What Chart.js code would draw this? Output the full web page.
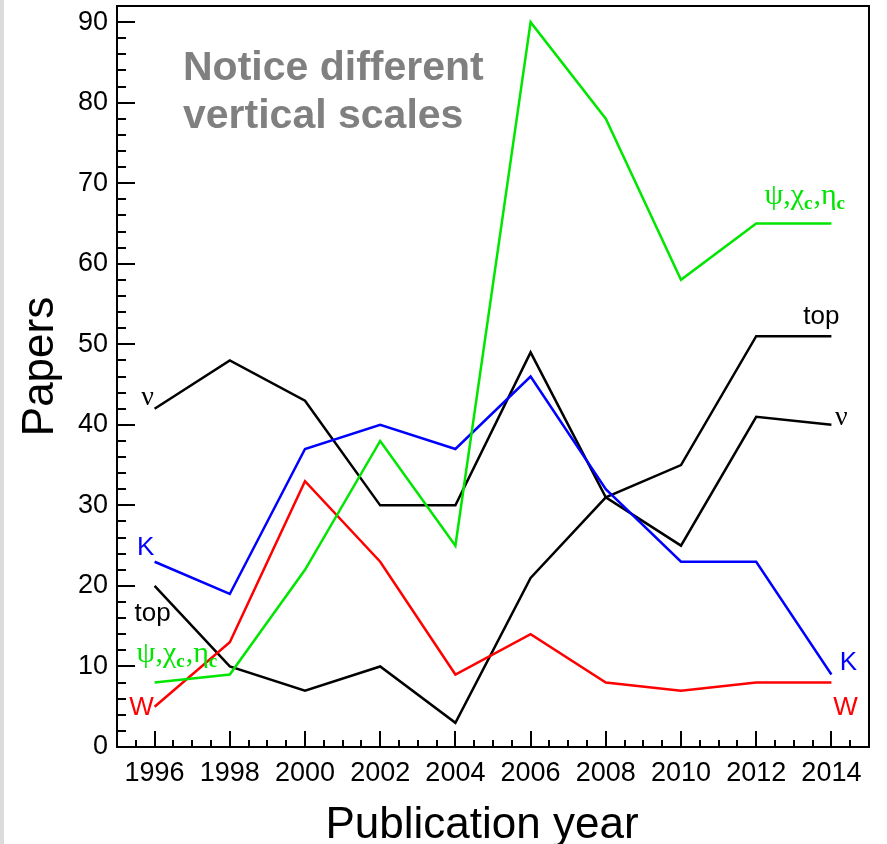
<!DOCTYPE html>
<html lang="en">
    <head>
        <meta charset="UTF-8" />
        <title>Papers per publication year</title>
        <script src="https://cdn.jsdelivr.net/npm/chart.js@4.4.1/dist/chart.umd.min.js"></script>
    </head>
    <style>
        body {
            margin: 0;
            background: #fff;
        }
        div.main {
            position: relative;
            width: 887px;
            height: 844px;
        }
        div.edge {
            position: absolute;
            left: 0;
            top: 0;
            width: 4px;
            height: 844px;
            background: #dcdcdc;
        }
    </style>

    <body>
        <div class="main">
            <canvas id="myChart" width="887" height="844"></canvas>
            <div class="edge"></div>
        </div>

        <script>
            // years on the x axis, papers per year for each topic
            const years = [1996, 1998, 2000, 2002, 2004, 2006, 2008, 2010, 2012, 2014];
            const psiChiEta = [8, 9, 22, 38, 25, 90, 78, 58, 65, 65];
            const wBoson = [5, 13, 33, 23, 9, 14, 8, 7, 8, 8];
            const kaon = [23, 19, 37, 40, 37, 46, 32, 23, 23, 9];
            const neutrino = [42, 48, 43, 30, 30, 49, 31, 25, 41, 40];
            const topQuark = [20, 10, 7, 10, 3, 21, 31, 35, 51, 51];
            const yTicks = [0, 10, 20, 30, 40, 50, 60, 70, 80, 90];

            const xTitle = "Publication year";
            const yTitle = "Papers";
            const note = ["Notice different", "vertical scales"];

            const sans = "'Liberation Sans', Arial, sans-serif";
            const serif = "'Liberation Serif', 'Times New Roman', serif";
            const GREEN = "#00e600";

            function pts(arr) {
                return years.map((x, i) => ({ x: x, y: arr[i] }));
            }

            // text tags at both ends of each line (dataset index, offsets from the point)
            const tags = [
                { ds: 3, end: 0, text: "ν", font: "28px " + serif, color: "#000", dx: -7, dy: -4 },
                { ds: 3, end: 1, text: "ν", font: "28px " + serif, color: "#000", dx: 10, dy: 0 },
                { ds: 2, end: 0, text: "K", font: "26px " + sans, color: "#0000ff", dx: -9, dy: -7 },
                { ds: 2, end: 1, text: "K", font: "26px " + sans, color: "#0000ff", dx: 17, dy: -5 },
                { ds: 4, end: 0, text: "top", font: "26px " + sans, color: "#000", dx: -2, dy: 35 },
                { ds: 4, end: 1, text: "top", font: "26px " + sans, color: "#000", dx: -10, dy: -12 },
                { ds: 1, end: 0, text: "W", font: "26px " + sans, color: "#ff0000", dx: -13, dy: 8 },
                { ds: 1, end: 1, text: "W", font: "26px " + sans, color: "#ff0000", dx: 14, dy: 32 },
            ];
            const psiTags = [
                { end: 0, dx: -18, dy: -21 },
                { end: 1, dx: -67, dy: -19 },
            ];

            function drawPsi(ctx, x, y) {
                const parts = [["ψ,χ", false], ["c", true], [",η", false], ["c", true]];
                ctx.fillStyle = GREEN;
                ctx.textAlign = "left";
                ctx.textBaseline = "alphabetic";
                parts.forEach((p) => {
                    ctx.font = p[1] ? "bold 19px " + serif : "30px " + serif;
                    ctx.fillText(p[0], x, p[1] ? y + 5 : y);
                    x += ctx.measureText(p[0]).width + (p[1] ? 1 : 0);
                });
            }

            const decor = {
                id: "decor",
                afterDraw(chart) {
                    const { ctx, chartArea: a, scales } = chart;
                    const x = scales.x;
                    const y = scales.y;
                    ctx.save();

                    // frame
                    ctx.strokeStyle = "#000";
                    ctx.lineWidth = 2;
                    ctx.strokeRect(a.left, a.top, a.right - a.left, a.bottom - a.top);

                    // inward tick marks
                    ctx.beginPath();
                    for (let v = 1995.5; v < 2015; v += 0.5) {
                        const px = Math.round(x.getPixelForValue(v));
                        const len = years.includes(v) ? 16 : 7;
                        ctx.moveTo(px, a.bottom);
                        ctx.lineTo(px, a.bottom - len);
                    }
                    for (let v = 2; v <= 90; v += 2) {
                        const py = Math.round(y.getPixelForValue(v));
                        const len = v % 10 === 0 ? 18 : 9;
                        ctx.moveTo(a.left, py);
                        ctx.lineTo(a.left + len, py);
                    }
                    ctx.stroke();

                    // tags at the line ends
                    tags.forEach((t) => {
                        const meta = chart.getDatasetMeta(t.ds);
                        const p = meta.data[t.end ? meta.data.length - 1 : 0];
                        ctx.font = t.font;
                        ctx.fillStyle = t.color;
                        ctx.textAlign = "center";
                        ctx.textBaseline = "alphabetic";
                        ctx.fillText(t.text, p.x + t.dx, p.y + t.dy);
                    });
                    psiTags.forEach((t) => {
                        const meta = chart.getDatasetMeta(0);
                        const p = meta.data[t.end ? meta.data.length - 1 : 0];
                        drawPsi(ctx, p.x + t.dx, p.y + t.dy);
                    });

                    // note
                    ctx.fillStyle = "#808080";
                    ctx.font = "bold 41px " + sans;
                    ctx.textAlign = "left";
                    ctx.textBaseline = "alphabetic";
                    ctx.fillText(note[0], a.left + 66, a.top + 74);
                    ctx.fillText(note[1], a.left + 66, a.top + 122);

                    // axis titles
                    ctx.fillStyle = "#000";
                    ctx.font = "44px " + sans;
                    ctx.textAlign = "center";
                    ctx.fillText(xTitle, (a.left + a.right) / 2 - 11, chart.height - 6);
                    ctx.translate(53, (a.top + a.bottom) / 2 - 10);
                    ctx.rotate(-Math.PI / 2);
                    ctx.fillText(yTitle, 0, 0);
                    ctx.restore();
                },
            };

            const line = (data, color) => ({
                data: pts(data),
                borderColor: color,
                backgroundColor: color,
                borderWidth: 2.5,
                pointRadius: 0,
                tension: 0,
                fill: false,
            });

            const ctx = document.getElementById("myChart").getContext("2d");
            const myChart = new Chart(ctx, {
                type: "line",
                data: {
                    datasets: [
                        line(psiChiEta, GREEN),
                        line(wBoson, "#ff0000"),
                        line(kaon, "#0000ff"),
                        line(neutrino, "#000"),
                        line(topQuark, "#000"),
                    ],
                },
                options: {
                    responsive: false,
                    animation: false,
                    layout: { padding: { top: 6, right: 18, left: 0, bottom: 0 } },
                    plugins: {
                        legend: { display: false },
                        tooltip: { enabled: false },
                    },
                    scales: {
                        x: {
                            type: "linear",
                            min: 1995,
                            max: 2015,
                            grid: { display: false, drawTicks: false },
                            border: { display: false },
                            afterBuildTicks: (s) => {
                                s.ticks = years.map((v) => ({ value: v }));
                            },
                            afterFit: (s) => {
                                s.height = 97;
                                s.paddingLeft = 0;
                                s.paddingRight = 0;
                            },
                            ticks: {
                                autoSkip: false,
                                maxRotation: 0,
                                padding: 10,
                                color: "#000",
                                font: { family: sans, size: 27 },
                                callback: (v) => String(v),
                            },
                        },
                        y: {
                            min: 0,
                            max: 92,
                            grid: { display: false, drawTicks: false },
                            border: { display: false },
                            afterBuildTicks: (s) => {
                                s.ticks = yTicks.map((v) => ({ value: v }));
                            },
                            afterFit: (s) => {
                                s.width = 117;
                                s.paddingTop = 0;
                                s.paddingBottom = 0;
                            },
                            ticks: {
                                padding: 9,
                                color: "#000",
                                font: { family: sans, size: 27 },
                                callback: (v) => String(v),
                            },
                        },
                    },
                },
                plugins: [decor],
            });
        </script>
    </body>
</html>
